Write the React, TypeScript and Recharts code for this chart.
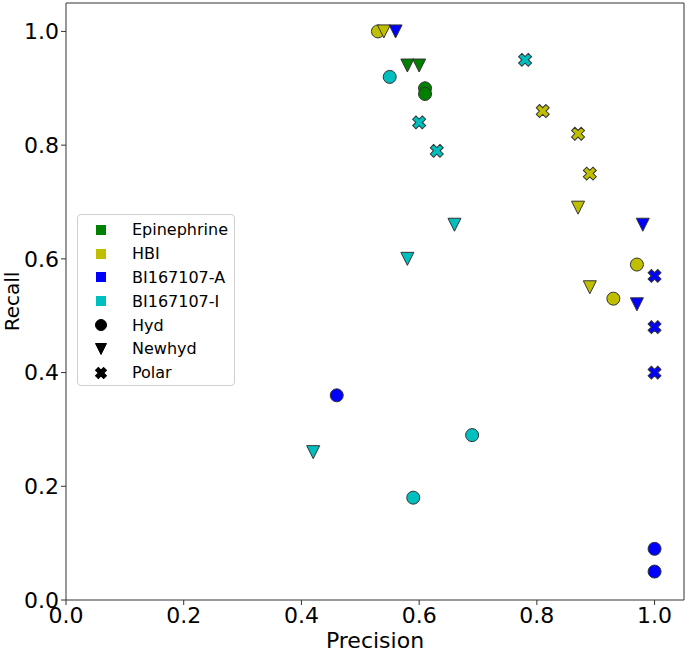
import React from 'react';
import { ScatterChart, Scatter, XAxis, YAxis, ReferenceLine, Label } from 'recharts';

// precision / recall pairs
const epiHyd = [{ p: 0.61, r: 0.90 }, { p: 0.61, r: 0.89 }];
const epiNewhyd = [{ p: 0.58, r: 0.94 }, { p: 0.60, r: 0.94 }];
const hbiHyd = [{ p: 0.53, r: 1.0 }, { p: 0.97, r: 0.59 }, { p: 0.93, r: 0.53 }];
const hbiNewhyd = [{ p: 0.54, r: 1.0 }, { p: 0.87, r: 0.69 }, { p: 0.89, r: 0.55 }];
const hbiPolar = [{ p: 0.81, r: 0.86 }, { p: 0.87, r: 0.82 }, { p: 0.89, r: 0.75 }];
const actHyd = [{ p: 0.46, r: 0.36 }, { p: 1.0, r: 0.09 }, { p: 1.0, r: 0.05 }];
const actNewhyd = [{ p: 0.56, r: 1.0 }, { p: 0.98, r: 0.66 }, { p: 0.97, r: 0.52 }];
const actPolar = [{ p: 1.0, r: 0.57 }, { p: 1.0, r: 0.48 }, { p: 1.0, r: 0.40 }];
const inactHyd = [{ p: 0.55, r: 0.92 }, { p: 0.69, r: 0.29 }, { p: 0.59, r: 0.18 }];
const inactNewhyd = [{ p: 0.66, r: 0.66 }, { p: 0.58, r: 0.60 }, { p: 0.42, r: 0.26 }];
const inactPolar = [{ p: 0.78, r: 0.95 }, { p: 0.60, r: 0.84 }, { p: 0.63, r: 0.79 }];

const ticks = [0, 0.2, 0.4, 0.6, 0.8, 1.0];

const ligands = ['Epinephrine', 'HBI', 'BI167107-A', 'BI167107-I'];
const ligandColors = ['#008000', '#bfbf00', '#0000ff', '#00bfbf'];
const markerNames = ['Hyd', 'Newhyd', 'Polar'];
const markerKinds = ['circle', 'triangle', 'x'];

const series = [
  { data: epiHyd, color: 0, kind: 'circle' },
  { data: epiNewhyd, color: 0, kind: 'triangle' },
  { data: hbiHyd, color: 1, kind: 'circle' },
  { data: hbiNewhyd, color: 1, kind: 'triangle' },
  { data: hbiPolar, color: 1, kind: 'x' },
  { data: actHyd, color: 2, kind: 'circle' },
  { data: actNewhyd, color: 2, kind: 'triangle' },
  { data: actPolar, color: 2, kind: 'x' },
  { data: inactHyd, color: 3, kind: 'circle' },
  { data: inactNewhyd, color: 3, kind: 'triangle' },
  { data: inactPolar, color: 3, kind: 'x' },
];

const FONT = '"DejaVu Sans", sans-serif';

const xPoints = (a: number, b: number) => {
  const pts = [
    [-b, -a], [b, -a], [b, -b], [a, -b], [a, b], [b, b],
    [b, a], [-b, a], [-b, b], [-a, b], [-a, -b], [-b, -b],
  ];
  return pts.map(([x, y]) => `${x},${y}`).join(' ');
};

const Marker = ({ kind, cx, cy, fill, stroke = '#333', size = 6.5 }: any) => {
  if (cx == null || cy == null) return null;
  if (kind === 'circle') {
    return <circle cx={cx} cy={cy} r={size} fill={fill} stroke={stroke} strokeWidth={1} />;
  }
  if (kind === 'triangle') {
    const h = size;
    return (
      <polygon
        points={`${cx - h},${cy - h} ${cx + h},${cy - h} ${cx},${cy + h}`}
        fill={fill}
        stroke={stroke}
        strokeWidth={1}
      />
    );
  }
  return (
    <polygon
      points={xPoints(size * 1.05, size * 0.36)}
      transform={`translate(${cx},${cy}) rotate(45)`}
      fill={fill}
      stroke={stroke}
      strokeWidth={1}
    />
  );
};

const ChartLegend = () => (
  <div
    style={{
      position: 'absolute',
      left: 77,
      top: 214,
      width: 158,
      height: 172,
      border: '1px solid #d0d0d0',
      borderRadius: 4,
      background: 'rgba(255,255,255,0.85)',
      fontFamily: FONT,
      fontSize: 16,
      color: '#000',
      boxSizing: 'border-box',
      paddingTop: 3,
    }}
  >
    {ligands.map((name, i) => (
      <div key={name} style={{ display: 'flex', alignItems: 'center', height: 23.8 }}>
        <div style={{ width: 10, height: 10, marginLeft: 18, background: ligandColors[i] }} />
        <span style={{ marginLeft: 26 }}>{name}</span>
      </div>
    ))}
    {markerNames.map((name, i) => (
      <div key={name} style={{ display: 'flex', alignItems: 'center', height: 23.8 }}>
        <svg width={14} height={14} style={{ marginLeft: 16 }}>
          <Marker kind={markerKinds[i]} cx={7} cy={7} size={5.5} fill="#000" stroke="#000" />
        </svg>
        <span style={{ marginLeft: 24 }}>{name}</span>
      </div>
    ))}
  </div>
);

const tickStyle = { fill: '#000', fontSize: 22, fontFamily: FONT };

export default function App() {
  return (
    <div style={{ position: 'absolute', left: 0, top: 0, width: 685, height: 653, background: '#fff' }}>
      <ScatterChart width={685} height={653} margin={{ top: 3, right: 1, bottom: 0, left: 0 }}>
        <XAxis
          type="number"
          dataKey="p"
          domain={[0, 1.05]}
          ticks={ticks}
          allowDataOverflow
          height={53}
          tick={tickStyle}
          tickFormatter={(v: number) => v.toFixed(1)}
          stroke="#333"
          tickSize={5}
        >
          <Label value="Precision" position="insideBottom" offset={5} style={{ fill: '#000', fontSize: 22, fontFamily: FONT }} />
        </XAxis>
        <YAxis
          type="number"
          dataKey="r"
          domain={[0, 1.05]}
          ticks={ticks}
          allowDataOverflow
          width={66}
          tick={tickStyle}
          tickFormatter={(v: number) => v.toFixed(1)}
          stroke="#333"
          tickSize={5}
        >
          <Label
            content={({ viewBox }: any) => {
              const y = viewBox.y + viewBox.height / 2;
              return (
                <text
                  x={12}
                  y={y}
                  transform={`rotate(-90, 12, ${y})`}
                  textAnchor="middle"
                  dominantBaseline="central"
                  style={{ fill: '#000', fontSize: 20, fontFamily: FONT }}
                >
                  Recall
                </text>
              );
            }}
          />
        </YAxis>
        <ReferenceLine x={1.05} stroke="#333" />
        <ReferenceLine y={1.05} stroke="#333" />
        {series.map((s, i) => (
          <Scatter
            key={i}
            data={s.data}
            isAnimationActive={false}
            shape={(props: any) => (
              <Marker cx={props.cx} cy={props.cy} kind={s.kind} fill={ligandColors[s.color]} />
            )}
          />
        ))}
      </ScatterChart>
      <ChartLegend />
    </div>
  );
}
